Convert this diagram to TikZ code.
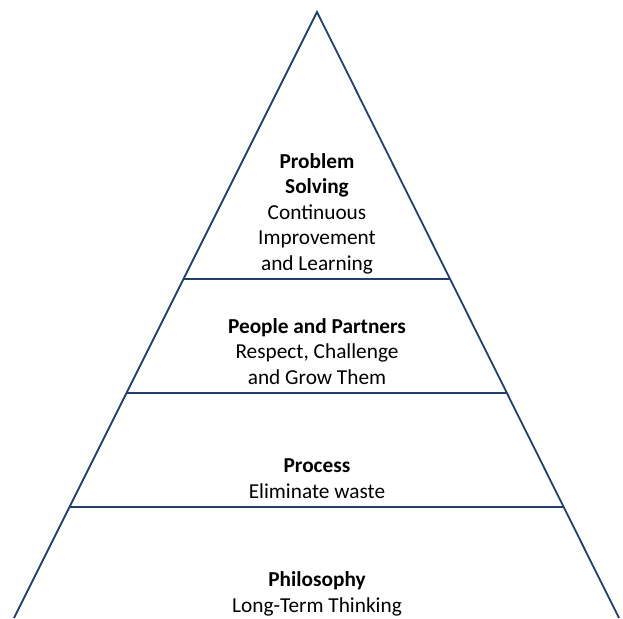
\documentclass[tikz,border=0pt]{standalone}
\usepackage{fontspec}
\setmainfont{Carlito}
\usetikzlibrary{calc}
\definecolor{pyr}{HTML}{22406A}
\begin{document}
\begin{tikzpicture}[x=1pt,y=-1pt,
  edge/.style={draw=pyr,line width=1.8pt},
  label/.style={align=center,font=\fontsize{21.3}{25.6}\selectfont,inner sep=0pt,anchor=base}]
\useasboundingbox (0,0) rectangle (623,618);
\coordinate (apex) at (317,12);
\coordinate (bl) at (14,618);
\coordinate (br) at (619,618);
\begin{scope}
\clip (0,0) rectangle (623,618);
\draw[edge] (bl) -- (apex) -- (br);
\end{scope}
\coordinate (l1) at ($(apex)!0.4406!(bl)$);
\coordinate (r1) at ($(apex)!0.4406!(br)$);
\coordinate (l2) at ($(apex)!0.6287!(bl)$);
\coordinate (r2) at ($(apex)!0.6287!(br)$);
\coordinate (l3) at ($(apex)!0.8168!(bl)$);
\coordinate (r3) at ($(apex)!0.8168!(br)$);
\draw[edge] (l1) -- (r1);
\draw[edge] (l2) -- (r2);
\draw[edge] (l3) -- (r3);
\node[label] (t1) at (317,270.5) {\textbf{Problem}\\\textbf{Solving}\\Continuous\\Improvement\\and Learning};
\node[label] (t2) at (317,384.5) {\textbf{People and Partners}\\Respect, Challenge\\and Grow Them};
\node[label] (t3) at (317,498.5) {\textbf{Process}\\Eliminate waste};
\node[label] (t4) at (317,612.5) {\textbf{Philosophy}\\Long-Term Thinking};
\end{tikzpicture}
\end{document}
